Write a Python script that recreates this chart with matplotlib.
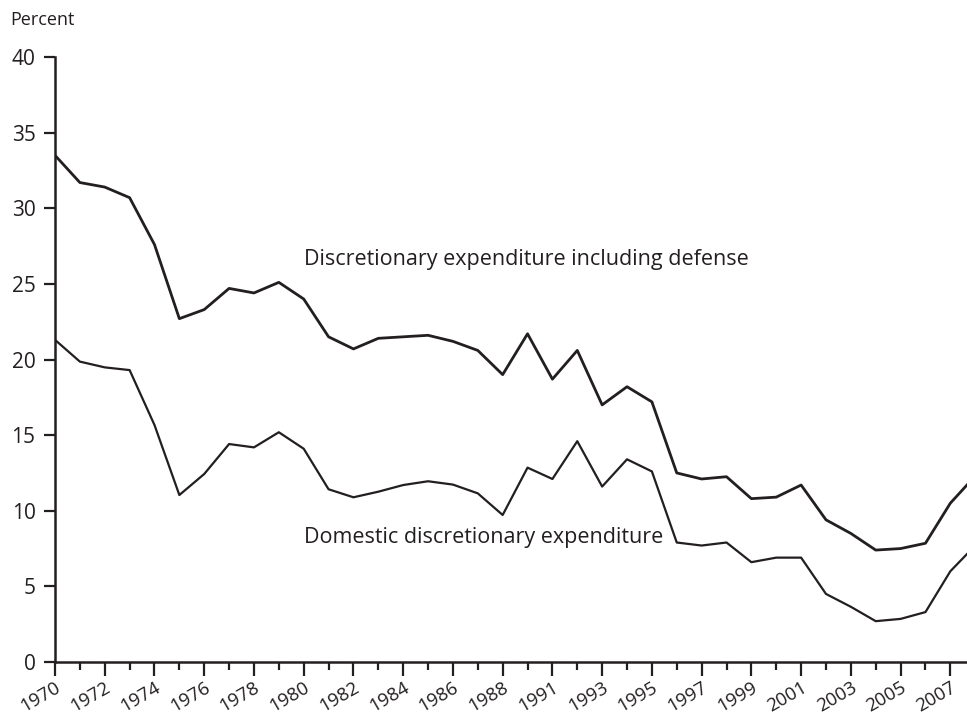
import matplotlib.pyplot as plt
from matplotlib.ticker import FixedLocator

# years on the x axis (one year between 1988 and 1991 is left unlabelled)
year_labels = ['1970', '', '1972', '', '1974', '', '1976', '', '1978', '', '1980', '',
               '1982', '', '1984', '', '1986', '', '1988', '', '1991', '', '1993', '',
               '1995', '', '1997', '', '1999', '', '2001', '', '2003', '', '2005', '',
               '2007']

total = [33.5, 31.7, 31.4, 30.7, 27.6, 22.7, 23.3, 24.7, 24.4, 25.1, 24.0, 21.5,
         20.7, 21.4, 21.5, 21.6, 21.2, 20.6, 19.0, 21.7, 18.7, 20.6, 17.0, 18.2,
         17.2, 12.5, 12.1, 12.25, 10.8, 10.9, 11.7, 9.4, 8.5, 7.4, 7.5, 7.85,
         10.5, 12.3]

domestic = [21.3, 19.86, 19.48, 19.3, 15.67, 11.04, 12.43, 14.41, 14.19, 15.19,
            14.1, 11.42, 10.89, 11.26, 11.7, 11.95, 11.73, 11.15, 9.72, 12.85,
            12.1, 14.6, 11.6, 13.4, 12.6, 7.9, 7.7, 7.9, 6.6, 6.9, 6.9, 4.5, 3.65,
            2.7, 2.85, 3.3, 6.0, 7.7]

plt.rcParams['font.family'] = ['Open Sans', 'DejaVu Sans']
ink = '#231f20'

fig = plt.figure(figsize=(9.67, 7.22), dpi=100)
ax = fig.add_axes([55 / 967, 60 / 722, 912 / 967, 605 / 722])

idx = list(range(len(total)))
ax.plot(idx, total, color=ink, lw=2.0)
ax.plot(idx, domestic, color=ink, lw=1.6)

ax.set_xlim(0, 36.67)
ax.set_ylim(0, 40)

ax.spines['top'].set_visible(False)
ax.spines['right'].set_visible(False)
for side in ['left', 'bottom']:
    ax.spines[side].set_linewidth(1.8)
    ax.spines[side].set_color(ink)

ax.set_yticks(range(0, 41, 5))
ax.tick_params(axis='y', length=8, width=1.6, color=ink, labelsize=15, pad=6,
               labelcolor=ink)

major = [i for i, s in enumerate(year_labels) if s]
minor = [i for i, s in enumerate(year_labels) if not s]
ax.xaxis.set_major_locator(FixedLocator(major))
ax.xaxis.set_minor_locator(FixedLocator(minor))
ax.set_xticklabels([year_labels[i] for i in major], rotation=30, ha='right',
                   rotation_mode='anchor')
ax.tick_params(axis='x', which='major', length=10, width=1.6, color=ink,
               labelsize=13.5, pad=2, labelcolor=ink)
ax.tick_params(axis='x', which='minor', length=6, width=1.6, color=ink)

ax.text(10, 26.6, 'Discretionary expenditure including defense', fontsize=15.5,
        color=ink, va='center', ha='left')
ax.text(10, 8.2, 'Domestic discretionary expenditure', fontsize=15.5,
        color=ink, va='center', ha='left')

fig.text(10 / 967, 1 - 20 / 722, 'Percent', fontsize=13, color=ink,
         va='center', ha='left')

fig.savefig('out.png', dpi=100)
